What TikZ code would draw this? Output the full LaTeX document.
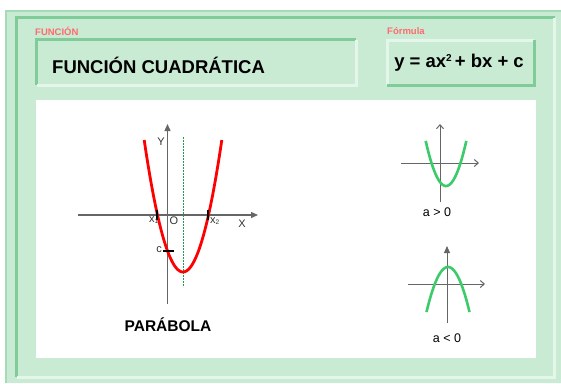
\documentclass[tikz,border=0pt]{standalone}
\usepackage{fontspec}
\setmainfont{Liberation Sans}
\usetikzlibrary{arrows.meta,positioning}
\definecolor{fqpanel}{HTML}{C9EBD4}
\definecolor{fqedge}{HTML}{A3DDB7}
\definecolor{fqdark}{HTML}{7FCC98}
\definecolor{fqlight}{HTML}{E4F5EA}
\definecolor{fqred}{HTML}{FF6B6B}
\definecolor{fqcurve}{HTML}{3CCB6A}
\definecolor{fqdash}{HTML}{1E9E4C}
\definecolor{fqaxis}{HTML}{666666}
\tikzset{
  tag/.style={font=\fontsize{9.5}{10}\selectfont\bfseries,text=fqred,anchor=west,inner sep=0pt},
  headline/.style={font=\fontsize{18.5}{22}\selectfont\bfseries,inner sep=0pt},
  axlab/.style={font=\fontsize{11}{12}\selectfont,text=fqaxis!50!black,inner sep=0pt},
  note/.style={font=\fontsize{12.5}{13}\selectfont,inner sep=0pt},
  axis/.style={fqaxis,line width=1.3pt},
  smallaxis/.style={fqaxis,line width=1pt},
  redcurve/.style={red,line width=2.8pt},
  greencurve/.style={fqcurve,line width=2.6pt},
  ticksign/.style={black,line width=1.3pt},
}
% bevelled frame: top/left colour, bottom/right colour
\newcommand{\bevel}[6]{%
  \draw[#5,line width=3pt] (#1,#4) -- (#1,#2) -- (#3,#2);
  \draw[#6,line width=3pt] (#3,#2) -- (#3,#4) -- (#1,#4);}
\begin{document}
\begin{tikzpicture}[x=1pt,y=-1pt]
  \useasboundingbox (0,0) rectangle (561,383);
  % panels
  \fill[fqpanel] (5,10) rectangle (561,383);
  \draw[fqedge,line width=1.5pt] (5.75,383) -- (5.75,10.75) -- (561,10.75);
  \bevel{16.5}{17.5}{554.5}{377}{fqdark}{fqlight}
  \fill[white] (36,100) rectangle (536,358);
  \bevel{36.5}{39.5}{356}{85}{fqdark}{fqlight}
  \bevel{387}{40}{534}{85}{fqlight}{fqdark}
  % texts
  \node[tag] (tagf) at (35,31) {FUNCIÓN};
  \node[tag] (tagr) at (387,31) {Fórmula};
  \node[headline,anchor=west] (title) at (52,65) {FUNCIÓN CUADRÁTICA};
  \node[headline] (formula) at (459,63) {y = ax\raisebox{6pt}{\fontsize{10}{10}\selectfont 2}\,+ bx + c};
  % main graph
  \coordinate (xl) at (78,215);  \coordinate (xr) at (258,215);
  \coordinate (yb) at (167.5,304); \coordinate (yt) at (167.5,124);
  \draw[fqdash,line width=0.8pt,dash pattern=on 2pt off 1pt] (183,137) -- (183,287);
  \draw[axis,-{Triangle[length=7pt,width=6pt]}] (xl) -- (xr);
  \draw[axis,-{Triangle[length=7pt,width=6pt]}] (yb) -- (yt);
  \draw[redcurve] plot[domain=-38.8:38.8,samples=60,smooth] ({183+\x},{272-57*(\x/25.5)^2});
  \draw[ticksign] (157,210) -- (157,220);
  \draw[ticksign] (208,210) -- (208,220);
  \draw[ticksign] (163,251) -- (174,251);
  \node[axlab] (ylab) at (161,142) {Y};
  \node[axlab] (xlab) at (242,224) {X};
  \node[axlab] (olab) at (174,221) {O};
  \node[axlab] (x1lab) at (154,220) {x\textsubscript{\fontsize{6.5}{6.5}\selectfont 1}};
  \node[axlab] (x2lab) at (215,221) {x\textsubscript{\fontsize{6.5}{6.5}\selectfont 2}};
  \node[axlab] (clab) at (159,250) {c};
  \node[font=\fontsize{15.5}{17}\selectfont\bfseries,inner sep=0pt] (parab) at (168,325) {PARÁBOLA};
  % a > 0
  \coordinate (ax1) at (401,163); \coordinate (ax2) at (479,163);
  \coordinate (ay1) at (440,202); \coordinate (ay2) at (440,124);
  \draw[smallaxis,-{Straight Barb[length=4pt,width=7pt]}] (ax1) -- (ax2);
  \draw[smallaxis,-{Straight Barb[length=4pt,width=7pt]}] (ay1) -- (ay2);
  \draw[greencurve] plot[domain=-20.3:20.3,samples=40,smooth] ({446+\x},{186-23*(\x/14.5)^2});
  \node[note] (apos) at (437,212) {a > 0};
  % a < 0
  \coordinate (bx1) at (408,284); \coordinate (bx2) at (485,284);
  \coordinate (by1) at (447,323); \coordinate (by2) at (447,246);
  \draw[smallaxis,-{Straight Barb[length=4pt,width=7pt]}] (bx1) -- (bx2);
  \draw[smallaxis,-{Triangle[length=7pt,width=6pt]}] (by1) -- (by2);
  \draw[greencurve] plot[domain=-21.5:21.5,samples=40,smooth] ({448+\x},{267+45*(\x/21.5)^2});
  \node[note] (aneg) at (447,338) {a < 0};
\end{tikzpicture}
\end{document}
